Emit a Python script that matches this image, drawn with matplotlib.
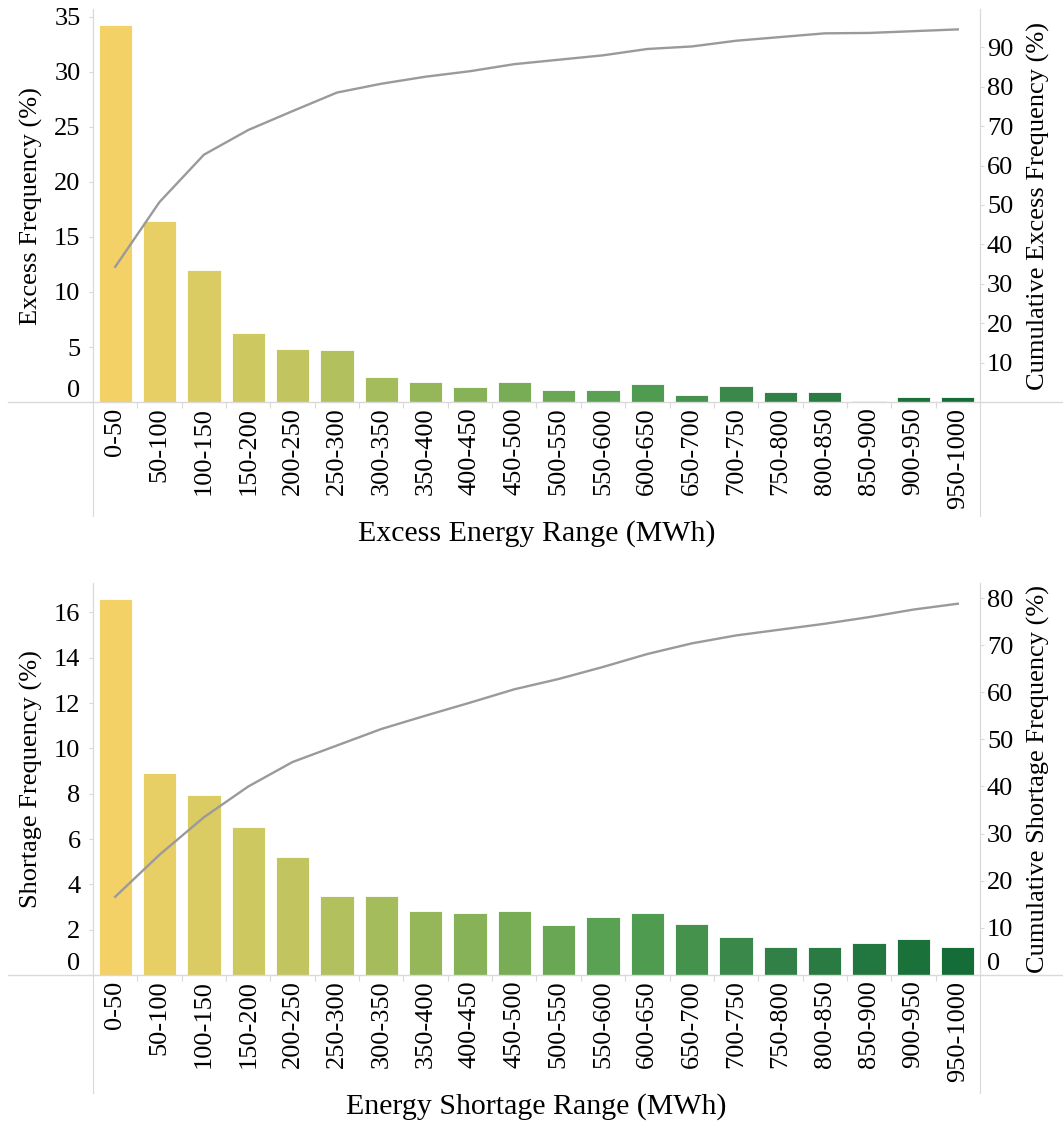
import matplotlib
matplotlib.use("Agg")
import matplotlib.pyplot as plt
from matplotlib.colors import LinearSegmentedColormap
import numpy as np

plt.rcParams['font.family'] = ['Liberation Serif', 'DejaVu Serif']

ranges = ['0-50', '50-100', '100-150', '150-200', '200-250', '250-300', '300-350',
          '350-400', '400-450', '450-500', '500-550', '550-600', '600-650', '650-700',
          '700-750', '750-800', '800-850', '850-900', '900-950', '950-1000']

# excess energy (%)
excess_freq = [34.3, 16.45, 12.0, 6.27, 4.8, 4.7, 2.24, 1.79, 1.39, 1.79,
               1.12, 1.12, 1.61, 0.64, 1.45, 0.94, 0.94, 0.1, 0.45, 0.45]
excess_cum = [34.3, 50.75, 62.75, 69.02, 73.82, 78.52, 80.76, 82.55, 83.94, 85.73,
              86.85, 87.97, 89.58, 90.22, 91.67, 92.61, 93.55, 93.65, 94.1, 94.55]

# energy shortage (%)
shortage_freq = [16.6, 8.92, 7.95, 6.53, 5.2, 3.5, 3.5, 2.84, 2.75, 2.84,
                 2.19, 2.55, 2.75, 2.25, 1.69, 1.24, 1.24, 1.41, 1.6, 1.24]
shortage_cum = [16.6, 25.52, 33.47, 40.0, 45.2, 48.7, 52.2, 55.04, 57.79, 60.63,
                62.82, 65.37, 68.12, 70.37, 72.06, 73.3, 74.54, 75.95, 77.55, 78.79]

green_gold = LinearSegmentedColormap.from_list(
    'green_gold', ['#F3D167', '#C4C65F', '#8CB458', '#55A052', '#2F7F47', '#146C36'])
bar_colors = [green_gold(v) for v in np.linspace(0, 1, len(ranges))]

GRID = '#d9d9d9'
LINE = '#9a9a9a'
FS = 19

fig = plt.figure(figsize=(10.63, 11.37), dpi=100)


def panel(rect, freq, cum, lticks, lmax, rticks, rmax, ylab, rlab, xlab, drop):
    ax = fig.add_axes(rect)
    x = np.arange(len(ranges))
    ax.bar(x, freq, width=0.75, color=bar_colors, edgecolor='white', linewidth=0.6, zorder=2)
    ax.set_xlim(-0.5, len(ranges) - 0.5)
    ax.set_ylim(0, lmax)
    ax.set_xticks(x)
    ax.set_xticklabels(ranges, rotation=90, fontsize=FS, va='top')
    ax.set_xticks(np.arange(len(ranges) - 1) + 0.5, minor=True)
    ax.tick_params(axis='x', which='major', length=0, pad=4)
    ax.tick_params(axis='x', which='minor', length=4, color=GRID, width=0.8)
    ax.set_yticks(lticks)
    ax.set_yticklabels([str(t) for t in lticks], fontsize=FS)
    ax.tick_params(axis='y', length=3, color=GRID, width=0.8, pad=6)
    ax.get_yticklabels()[0].set_va('bottom')
    for s in ['top', 'right', 'bottom']:
        ax.spines[s].set_visible(False)
    ax.spines['left'].set_color(GRID)
    ax.spines['left'].set_linewidth(0.8)
    ax.set_ylabel(ylab, fontsize=FS, labelpad=8)
    ax.set_xlabel(xlab, fontsize=21.5, labelpad=8)

    # header dividers and baseline
    ax.plot([0, 0], [1, -drop], transform=ax.transAxes, color=GRID, lw=0.8, clip_on=False, zorder=1)
    ax.plot([1, 1], [1, -drop], transform=ax.transAxes, color=GRID, lw=0.8, clip_on=False, zorder=1)
    ax.plot([-0.096, 1.1], [0, 0], transform=ax.transAxes, color=GRID, lw=1.0, clip_on=False, zorder=3)

    ax2 = ax.twinx()
    ax2.plot(x, cum, color=LINE, lw=1.7, zorder=4)
    ax2.set_ylim(0, rmax)
    ax2.set_yticks(rticks)
    ax2.set_yticklabels([str(t) for t in rticks], fontsize=FS)
    if rticks[0] == 0:
        ax2.get_yticklabels()[0].set_va('bottom')
    ax2.tick_params(axis='y', length=3, color=GRID, width=0.8, pad=2)
    for s in ['top', 'left', 'bottom']:
        ax2.spines[s].set_visible(False)
    ax2.spines['right'].set_color(GRID)
    ax2.spines['right'].set_linewidth(0.8)
    ax2.set_ylabel(rlab, fontsize=FS, labelpad=10)
    return ax, ax2


panel([0.0875, 0.6464, 0.8344, 0.3456], excess_freq, excess_cum,
      list(range(0, 36, 5)), 35.7, list(range(10, 100, 10)), 99.7,
      'Excess Frequency (%)', 'Cumulative Excess Frequency (%)',
      'Excess Energy Range (MWh)', 0.29)

panel([0.0875, 0.1425, 0.8344, 0.3448], shortage_freq, shortage_cum,
      list(range(0, 17, 2)), 17.3, list(range(0, 90, 10)), 83.2,
      'Shortage Frequency (%)', 'Cumulative Shortage Frequency (%)',
      'Energy Shortage Range (MWh)', 0.30)

fig.savefig('out.png', dpi=100)
